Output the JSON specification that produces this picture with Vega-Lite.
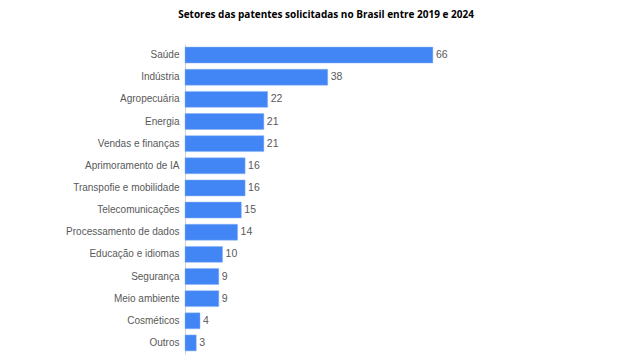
{
  "$schema": "https://vega.github.io/schema/vega-lite/v6.json",
  "autosize": "none",
  "width": 400,
  "height": 310,
  "padding": {"left": 185, "top": 44, "right": 52, "bottom": 4},
  "background": "white",
  "title": {
    "text": "Setores das patentes solicitadas no Brasil entre 2019 e 2024",
    "font": "Open Sans",
    "fontSize": 10,
    "fontWeight": "bold",
    "color": "#000000",
    "anchor": "middle",
    "frame": "group",
    "dx": -59,
    "offset": 24
  },
  "data": {
    "values": [
      {"setor": "Saúde", "n": 66},
      {"setor": "Indústria", "n": 38},
      {"setor": "Agropecuária", "n": 22},
      {"setor": "Energia", "n": 21},
      {"setor": "Vendas e finanças", "n": 21},
      {"setor": "Aprimoramento de IA", "n": 16},
      {"setor": "Transpofie e mobilidade", "n": 16},
      {"setor": "Telecomunicações", "n": 15},
      {"setor": "Processamento de dados", "n": 14},
      {"setor": "Educação e idiomas", "n": 10},
      {"setor": "Segurança", "n": 9},
      {"setor": "Meio ambiente", "n": 9},
      {"setor": "Cosméticos", "n": 4},
      {"setor": "Outros", "n": 3}
    ]
  },
  "encoding": {
    "y": {
      "field": "setor",
      "type": "nominal",
      "sort": null,
      "scale": {"paddingInner": 0.28, "paddingOuter": 0.14},
      "axis": {
        "title": null,
        "ticks": false,
        "domain": true,
        "domainColor": "#d0d0d0",
        "domainWidth": 1,
        "labelFont": "Liberation Sans",
        "labelFontSize": 10,
        "labelColor": "#595959",
        "labelPadding": 6
      }
    },
    "x": {
      "field": "n",
      "type": "quantitative",
      "scale": {"domain": [0, 106.5], "nice": false},
      "axis": null
    }
  },
  "layer": [
    {
      "mark": {"type": "bar", "color": "#4285F4", "stroke": "#8ab4f8", "strokeWidth": 0.5}
    },
    {
      "mark": {"type": "text", "align": "left", "dx": 3, "font": "Liberation Sans", "fontSize": 10.5, "color": "#595959"},
      "encoding": {"text": {"field": "n", "type": "quantitative"}}
    }
  ],
  "config": {"view": {"stroke": null}}
}
